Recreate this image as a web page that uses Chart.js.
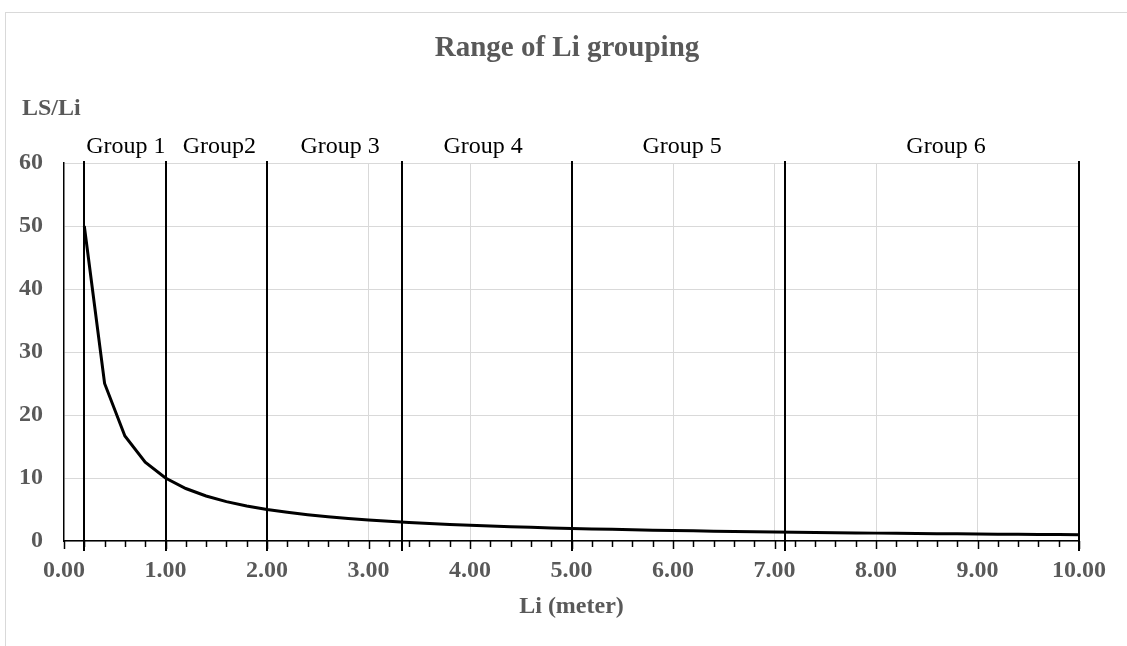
<!DOCTYPE html>
<html>
<head>
<meta charset="utf-8">
<script src="https://cdn.jsdelivr.net/npm/chart.js@4.4.0/dist/chart.umd.min.js"></script>
<style>
  html, body { margin: 0; padding: 0; background: #fff; overflow: hidden; }
  #frame { position: absolute; left: 5px; top: 12px; width: 1200px; height: 700px;
           border-left: 1.5px solid #d9d9d9; border-top: 1.5px solid #d9d9d9; }
  #wrap { position: absolute; left: 0; top: 0; width: 1127px; height: 646px; }
</style>
</head>
<body>
<div id="frame"></div>
<div id="wrap"><canvas id="grupos"></canvas></div>
<script>
// Datos
const li = [0.2, 0.4, 0.6, 0.8, 1.0, 1.2, 1.4, 1.6, 1.8, 2.0,
            2.2, 2.4, 2.6, 2.8, 3.0, 3.2, 3.4, 3.6, 3.8, 4.0,
            4.2, 4.4, 4.6, 4.8, 5.0, 5.2, 5.4, 5.6, 5.8, 6.0,
            6.2, 6.4, 6.6, 6.8, 7.0, 7.2, 7.4, 7.6, 7.8, 8.0,
            8.2, 8.4, 8.6, 8.8, 9.0, 9.2, 9.4, 9.6, 9.8, 10.0];
const lsLi = [50, 25, 16.67, 12.5, 10, 8.33, 7.14, 6.25, 5.56, 5,
              4.55, 4.17, 3.85, 3.57, 3.33, 3.13, 2.94, 2.78, 2.63, 2.5,
              2.38, 2.27, 2.17, 2.08, 2, 1.92, 1.85, 1.79, 1.72, 1.67,
              1.61, 1.56, 1.52, 1.47, 1.43, 1.39, 1.35, 1.32, 1.28, 1.25,
              1.22, 1.19, 1.16, 1.14, 1.11, 1.09, 1.06, 1.04, 1.02, 1];

// Límites y etiquetas de los grupos
const groupBounds = [0.2, 1, 2, 3.33, 5, 7.1, 10];
const groupNames = ["Group 1", "Group2", "Group 3", "Group 4", "Group 5", "Group 6"];
const groupLabelX = [0.61, 1.53, 2.72, 4.13, 6.09, 8.69];

const chartTitle = "Range of Li grouping";
const yTitle = "LS/Li";
const xTitle = "Li (meter)";

const gray = "#595959";
const serif = "'Liberation Serif', 'Times New Roman', serif";
Chart.defaults.font.family = serif;

const isInt = v => Math.abs(v - Math.round(v)) < 1e-6;

// Líneas de grupo, marcas menores y textos
const extras = {
  id: "extras",
  beforeDatasetsDraw(chart) {
    const { ctx, scales: { x, y } } = chart;
    ctx.save();
    ctx.strokeStyle = "#000";
    ctx.lineWidth = 2;
    groupBounds.forEach(v => {
      const px = Math.round(x.getPixelForValue(v));
      ctx.beginPath();
      ctx.moveTo(px, y.getPixelForValue(60) - 2);
      ctx.lineTo(px, y.bottom + 10);
      ctx.stroke();
    });
    ctx.restore();
  },
  afterDraw(chart) {
    const { ctx, scales: { x, y }, chartArea } = chart;
    ctx.save();
    // marcas del eje x
    ctx.strokeStyle = "#000";
    ctx.lineWidth = 1.5;
    x.ticks.forEach(t => {
      const px = Math.round(x.getPixelForValue(t.value)) + 0.5;
      ctx.beginPath();
      ctx.moveTo(px, y.bottom);
      ctx.lineTo(px, y.bottom + (isInt(t.value) ? 8 : 6));
      ctx.stroke();
    });
    // etiquetas de grupos
    ctx.fillStyle = "#000";
    ctx.font = "24px " + serif;
    ctx.textAlign = "center";
    ctx.textBaseline = "alphabetic";
    groupNames.forEach((n, i) => {
      ctx.fillText(n, x.getPixelForValue(groupLabelX[i]), chartArea.top - 10);
    });
    // título y título del eje y
    ctx.fillStyle = gray;
    ctx.font = "bold 29px " + serif;
    ctx.fillText(chartTitle, 567, 56);
    ctx.font = "bold 24px " + serif;
    ctx.textAlign = "left";
    ctx.fillText(yTitle, 22, 115);
    ctx.restore();
  }
};

new Chart(document.getElementById("grupos"), {
  type: "scatter",
  data: {
    datasets: [{
      data: li.map((v, i) => ({ x: v, y: lsLi[i] })),
      showLine: true,
      borderColor: "#000",
      borderWidth: 3,
      pointRadius: 0,
      tension: 0
    }]
  },
  options: {
    responsive: true,
    maintainAspectRatio: false,
    animation: false,
    layout: { padding: { top: 163, right: 48, left: 0, bottom: 0 } },
    plugins: {
      legend: { display: false },
      tooltip: { enabled: false }
    },
    scales: {
      x: {
        type: "linear",
        min: 0,
        max: 10,
        afterFit: s => { s.height = 105; },
        ticks: {
          stepSize: 0.2,
          autoSkip: false,
          maxRotation: 0,
          padding: 15,
          color: gray,
          font: { size: 24, weight: "bold" },
          callback: v => isInt(v) ? Number(v).toFixed(2) : ""
        },
        grid: {
          drawTicks: false,
          color: c => (c.tick && isInt(c.tick.value) && c.tick.value > 0) ? "#d9d9d9" : "rgba(0,0,0,0)"
        },
        border: { color: "#000", width: 1.5 },
        title: {
          display: true,
          text: xTitle,
          color: gray,
          font: { size: 24, weight: "bold" },
          padding: { top: 0, bottom: 25 }
        }
      },
      y: {
        min: 0,
        max: 60,
        afterFit: s => { s.width = 64; },
        ticks: {
          stepSize: 10,
          padding: 21,
          color: gray,
          font: { size: 24, weight: "bold" }
        },
        grid: { drawTicks: false, color: "#d9d9d9" },
        border: { color: "#000", width: 1.5 }
      }
    }
  },
  plugins: [extras]
});
</script>
</body>
</html>
